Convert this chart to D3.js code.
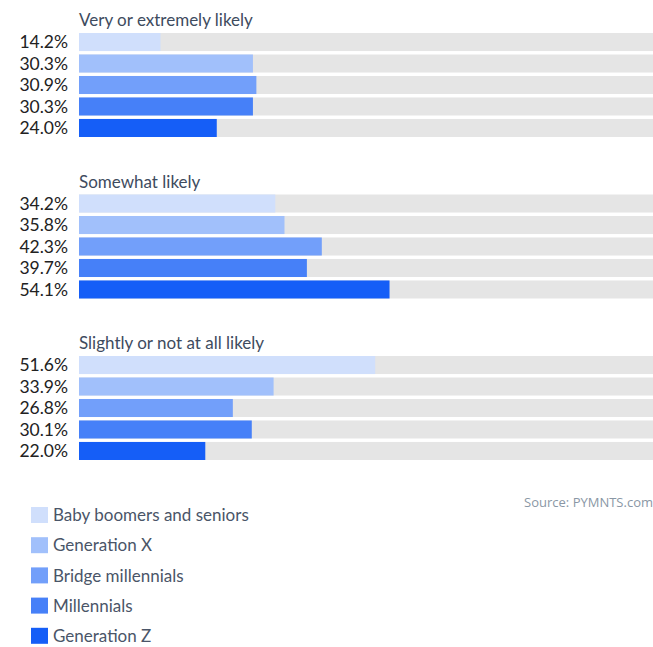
<!DOCTYPE html>
<html>
<head>
<meta charset="utf-8">
<script src="https://cdn.jsdelivr.net/npm/d3@7"></script>
<style>
  body { margin: 0; background: #fff; }
  svg { display: block; font-family: Lato, "Open Sans", sans-serif; }
</style>
</head>
<body>
<div id="chart"></div>
<script>
// data
var groups = ['Very or extremely likely', 'Somewhat likely', 'Slightly or not at all likely'];
var generations = ['Baby boomers and seniors', 'Generation X', 'Bridge millennials', 'Millennials', 'Generation Z'];
var veryLikely = [14.2, 30.3, 30.9, 30.3, 24.0];
var somewhatLikely = [34.2, 35.8, 42.3, 39.7, 54.1];
var slightlyLikely = [51.6, 33.9, 26.8, 30.1, 22.0];
var colors = ['#d0dffc', '#a1c0fb', '#729ffa', '#4680f8', '#155ef7'];
var source = 'Source: PYMNTS.com';

var seriesByGroup = [veryLikely, somewhatLikely, slightlyLikely];

var width = 653, height = 647;
var svg = d3.select('#chart').append('svg')
    .attr('width', width)
    .attr('height', height);

var x = d3.scaleLinear().domain([0, 100]).range([79, 653]);
var groupY = d3.scaleBand().domain(groups).range([33, 517.5]).paddingInner(0);
var rowY = d3.scaleBand().domain(generations).range([0, 104]).paddingInner(0.16).paddingOuter(0);
var color = d3.scaleOrdinal().domain(generations).range(colors);

var g = svg.selectAll('g.group')
    .data(groups)
    .enter().append('g')
    .attr('class', 'group')
    .attr('transform', function (d) { return 'translate(0,' + groupY(d) + ')'; });

g.append('text')
    .attr('class', 'title')
    .attr('x', 79)
    .attr('y', -7)
    .attr('fill', '#3e4b5e')
    .style('font-size', '17px')
    .text(function (d) { return d; });

g.each(function (grp, gi) {
    var rows = d3.select(this).selectAll('g.row')
        .data(seriesByGroup[gi].map(function (v, i) { return { gen: generations[i], value: v }; }))
        .enter().append('g')
        .attr('class', 'row')
        .attr('transform', function (d) { return 'translate(0,' + rowY(d.gen) + ')'; });

    rows.append('rect')
        .attr('x', x(0))
        .attr('width', x(100) - x(0))
        .attr('height', rowY.bandwidth())
        .attr('fill', '#e5e5e5');

    rows.append('rect')
        .attr('x', x(0))
        .attr('width', function (d) { return x(d.value) - x(0); })
        .attr('height', rowY.bandwidth())
        .attr('fill', function (d) { return color(d.gen); });

    rows.append('text')
        .attr('x', 68)
        .attr('y', rowY.bandwidth() / 2)
        .attr('dy', '0.36em')
        .attr('text-anchor', 'end')
        .attr('fill', '#222')
        .style('font-size', '17.5px')
        .text(function (d) { return d.value.toFixed(1) + '%'; });
});

svg.append('text')
    .attr('x', 653)
    .attr('y', 507)
    .attr('text-anchor', 'end')
    .attr('fill', '#8a97a5')
    .style('font-family', '"Open Sans", sans-serif')
    .style('font-size', '13px')
    .text(source);

var legend = svg.selectAll('g.legend')
    .data(generations)
    .enter().append('g')
    .attr('class', 'legend')
    .attr('transform', function (d, i) { return 'translate(31,' + (507 + i * 30.2) + ')'; });

legend.append('rect')
    .attr('width', 17)
    .attr('height', 16)
    .attr('fill', function (d) { return color(d); });

legend.append('text')
    .attr('x', 22)
    .attr('y', 8)
    .attr('dy', '0.36em')
    .attr('fill', '#4a5568')
    .style('font-size', '17px')
    .text(function (d) { return d; });
</script>
</body>
</html>
